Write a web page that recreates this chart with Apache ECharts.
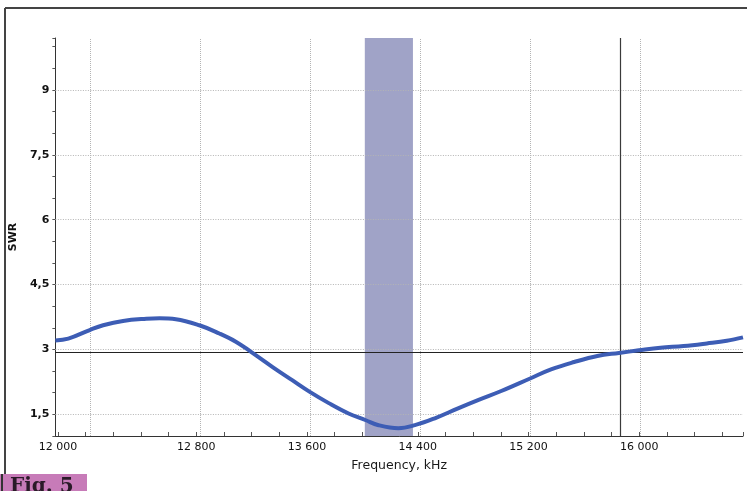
<!DOCTYPE html>
<html>
<head>
<meta charset="utf-8">
<script src="https://cdn.jsdelivr.net/npm/echarts@6/dist/echarts.min.js"></script>
<style>
html,body{margin:0;padding:0;background:#fff;}
#chart{width:747px;height:491px;}
</style>
</head>
<body>
<div id="chart"></div>
<script>
// Frequency (kHz) and SWR
const freq = [11750, 11844, 12000, 12097, 12242, 12411, 12508, 12626, 12797, 12942, 13062, 13170, 13327, 13472, 13600, 13738, 13882, 14003, 14100, 14244, 14364, 14509, 14678, 14823, 14992, 15202, 15354, 15522, 15691, 15848, 15992, 16150, 16318, 16487, 16632, 16750];
const swr  = [3.21, 3.25, 3.45, 3.56, 3.66, 3.71, 3.72, 3.70, 3.56, 3.37, 3.18, 2.95, 2.60, 2.29, 2.02, 1.76, 1.52, 1.37, 1.25, 1.18, 1.25, 1.41, 1.64, 1.83, 2.04, 2.33, 2.54, 2.71, 2.85, 2.92, 2.98, 3.04, 3.08, 3.14, 3.20, 3.28];
// Axes / annotations
const xGridValues = [12000, 12800, 13600, 14400, 15200, 16000];
const xTickLabels = {11800: '12 000', 12800: '12 800', 13600: '13 600', 14400: '14 400', 15200: '15 200', 16000: '16 000'};
const yGridValues = [1.5, 3, 4.5, 6, 7.5, 9];
const band = [14000, 14350];
const markerFreq = 15855;
const markerSWR = 2.94;
const xMin = 11750, xMax = 16750, yMin = 1, yMax = 10.2;

const chart = echarts.init(document.getElementById('chart'));
const plotLeft = 51, plotRight = 4;
const pxPerKHz = (747 - plotLeft - plotRight) / (xMax - xMin);
const font = 'DejaVu Sans';
const vGridLine = {color: '#b4b4b4', type: [1, 1], width: 1};
const hGridLine = {color: '#b4b4b4', type: [1, 1.5], width: 1};

const mlData = [];
xGridValues.forEach(v => mlData.push({xAxis: v, lineStyle: vGridLine}));
yGridValues.forEach(v => mlData.push({yAxis: v, lineStyle: hGridLine}));
mlData.push({xAxis: markerFreq, lineStyle: {color: '#3a3a3a', width: 1.2, type: 'solid'}});
mlData.push({yAxis: markerSWR, lineStyle: {color: '#222', width: 1.2, type: 'solid'}});

chart.setOption({
  animation: false,
  backgroundColor: '#fff',
  grid: [
    {left: plotLeft, right: plotRight, top: 38, bottom: 55},
    {left: plotLeft + (11800 - xMin) * pxPerKHz, right: plotRight, top: 38, bottom: 55}
  ],
  xAxis: [
    {
      gridIndex: 0, type: 'value', min: xMin, max: xMax,
      axisLine: {show: true, lineStyle: {color: '#333', width: 1}},
      axisTick: {show: false}, axisLabel: {show: false}, splitLine: {show: false},
      name: 'Frequency, kHz', nameLocation: 'middle', nameGap: 23,
      nameTextStyle: {fontFamily: font, fontSize: 12.5, color: '#1a1a1a'}
    },
    {
      gridIndex: 1, type: 'value', min: 11800, max: xMax, interval: 200,
      axisLine: {show: false},
      axisTick: {show: true, inside: true, length: 4, lineStyle: {color: '#555'}},
      axisLabel: {
        show: true, margin: 6, fontFamily: font, fontSize: 11, color: '#111',
        formatter: v => xTickLabels[Math.round(v)] || ''
      },
      splitLine: {show: false}
    }
  ],
  yAxis: [
    {
      gridIndex: 0, type: 'value', min: yMin, max: yMax, interval: 0.5,
      axisLine: {show: true, lineStyle: {color: '#333', width: 1}},
      axisTick: {show: true, inside: false, length: 3, lineStyle: {color: '#555'}},
      axisLabel: {
        margin: 6, fontFamily: font, fontSize: 11, color: '#111', fontWeight: 'bold',
        formatter: v => {
          const k = v / 1.5;
          if (Math.abs(k - Math.round(k)) < 1e-6 && v > 1.2) return String(v).replace('.', ',');
          return '';
        }
      },
      splitLine: {show: false},
      name: 'SWR', nameLocation: 'middle', nameGap: 33, nameRotate: 90,
      nameTextStyle: {fontFamily: font, fontSize: 11, color: '#111', fontWeight: 'bold'}
    },
    {gridIndex: 1, type: 'value', min: yMin, max: yMax, show: false}
  ],
  series: [{
    type: 'line', xAxisIndex: 0, yAxisIndex: 0,
    data: freq.map((f, i) => [f, swr[i]]),
    smooth: 0.4, showSymbol: false, clip: true,
    lineStyle: {color: '#3d5db5', width: 4},
    z: 5,
    markArea: {
      silent: true,
      itemStyle: {color: '#a0a3c7', opacity: 1},
      data: [[{xAxis: band[0]}, {xAxis: band[1]}]]
    },
    markLine: {
      silent: true, symbol: ['none', 'none'], label: {show: false},
      animation: false,
      data: mlData
    }
  }],
  graphic: [
    {type: 'line', shape: {x1: 5, y1: 8, x2: 747, y2: 8}, style: {stroke: '#444', lineWidth: 2}},
    {type: 'line', shape: {x1: 5, y1: 8, x2: 5, y2: 474}, style: {stroke: '#444', lineWidth: 2}},
    {type: 'rect', shape: {x: 0, y: 474, width: 87, height: 17}, style: {fill: '#c77bb8'}},
    {type: 'line', shape: {x1: 2, y1: 474, x2: 2, y2: 491}, style: {stroke: '#333', lineWidth: 2}},
    {type: 'text', left: 10, top: 477, style: {text: 'Fig. 5', fontFamily: 'DejaVu Serif', fontSize: 20, fontWeight: 'bold', fill: '#2a1a28'}}
  ]
});
</script>
</body>
</html>
